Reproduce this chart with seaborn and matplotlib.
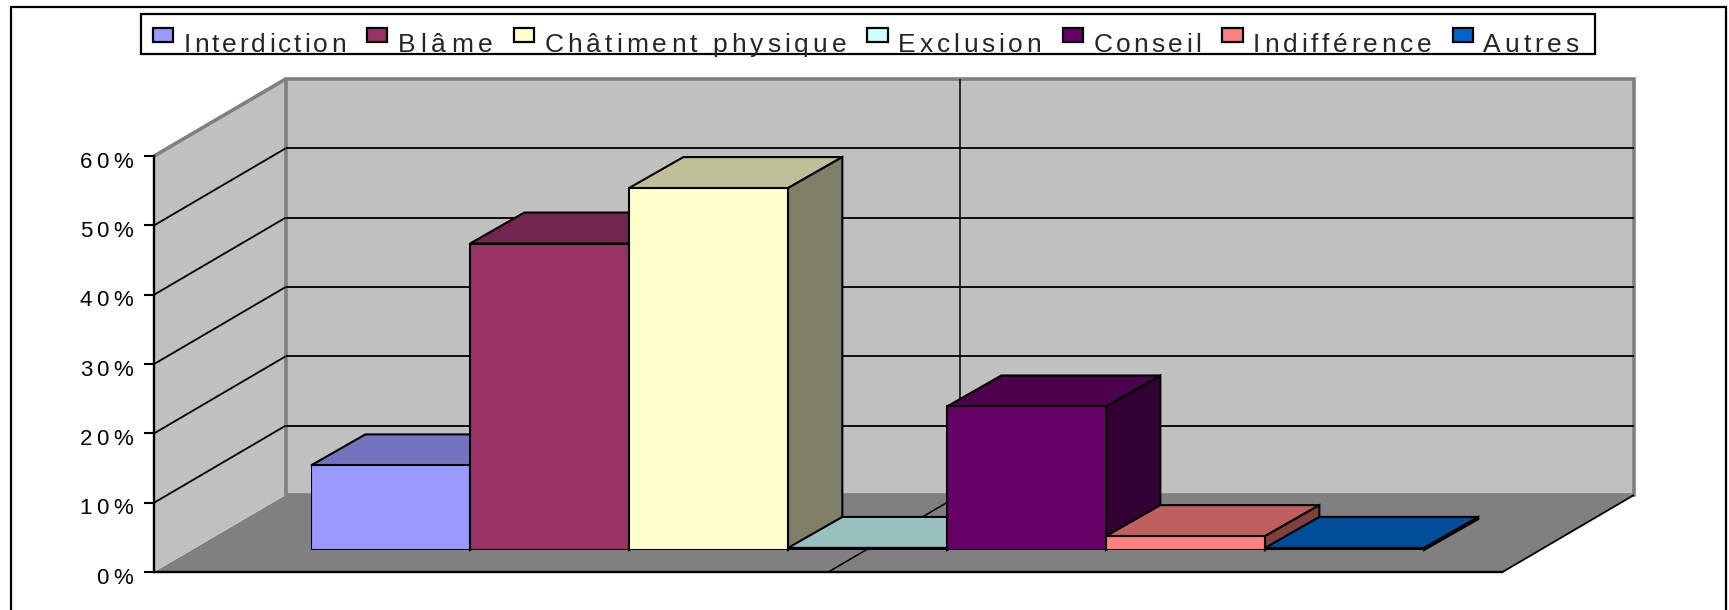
import matplotlib
matplotlib.use("Agg")
import matplotlib.pyplot as plt
import seaborn as sns
from matplotlib.legend_handler import HandlerPatch
from matplotlib.offsetbox import TextArea
from matplotlib.patches import Patch, Polygon, Rectangle
from matplotlib.text import Text
from matplotlib.transforms import Bbox, IdentityTransform

# ---- data ----
categories = ["Interdiction", "Blâme", "Châtiment physique", "Exclusion",
              "Conseil", "Indifférence", "Autres"]
values = [12.2, 44.2, 52.2, 0.3, 20.7, 2, 0.3]
front_colors = ["#9999FF", "#993366", "#FFFFCC", "#CCFFFF", "#660066", "#FF8080", "#0066CC"]
top_colors = ["#7373BF", "#73264D", "#BFBF99", "#99BFBF", "#4D004D", "#BF6060", "#004D99"]
side_colors = ["#4D4D80", "#4D1A33", "#808066", "#668080", "#330033", "#804040", "#003366"]
y_ticks = [0, 10, 20, 30, 40, 50, 60]
y_tick_labels = ["0%", "10%", "20%", "30%", "40%", "50%", "60%"]

# ---- layout ----
W, H = 1729, 610
WALL, FLOOR = "#C0C0C0", "#808080"
DX, DY = 0.3417, 4.47          # oblique shift of one bar depth (category units, % units)
WALL_DX = 0.3328               # same shift for the walls and floor
D_FRONT, D_BACK = -0.71, 1.774 # floor extent in depth units
X_MID, X_HALF = 2.99, 4.24     # floor extent in category units
Y_TOP = 60
FONT = "Liberation Sans"
LEGEND_SPACING = [3.0, 5.0, 4.0, 3.75, 3.3, 3.7, 3.8]  # pixels between glyphs

sns.set_style("white")
plt.rcParams["font.family"] = [FONT, "DejaVu Sans"]

fig = plt.figure(figsize=(W / 100, H / 100), dpi=100, facecolor="white")


def axes_from_pixels(left, right, top, bottom):
    return fig.add_axes([left / W, 1 - bottom / H, (right - left) / W, (bottom - top) / H])


def letter_space(artist, spacing, drop=0.0):
    """Draw one text artist with extra pixels between its glyphs."""
    def draw(renderer):
        label = artist.get_text()
        x, y = artist.get_transform().transform(artist.get_position())
        fp = artist.get_fontproperties()
        measure = lambda s: renderer.get_text_width_height_descent(s, fp, False)[0]
        base = measure("xx")
        advances = [measure("x" + c + "x") - base for c in label]
        if artist.get_ha() == "right":
            x -= sum(advances) + spacing * (len(label) - 1)
        for c, adv in zip(label, advances):
            glyph = Text(x, y - drop, c, fontproperties=fp, color=artist.get_color(),
                         va="baseline", ha="left", transform=IdentityTransform())
            glyph.set_figure(fig)
            glyph.draw(renderer)
            x += adv + spacing
    artist.draw = draw


# plane of the bars' front faces
ax = axes_from_pixels(311, 1424, 134, 550)
sns.barplot(x=categories, y=values, hue=categories, palette=front_colors, width=1,
            edgecolor="black", linewidth=1.5, saturation=1, legend=False, ax=ax)
ax.set_xlim(-0.5, 6.5)
ax.set_ylim(0, Y_TOP)
ax.set_xlabel("")
ax.set_ylabel("")
ax.set_xticks([])
ax.set_yticks([])
ax.patch.set_visible(False)
sns.despine(ax=ax, left=True, bottom=True)


def project(x, y, d, dx=DX):
    return x + dx * d, y + DY * d


def polygon(points, face, edge="none", lw=0.0, z=1, dx=DX):
    ax.add_patch(Polygon([project(*p, dx) for p in points], closed=True, facecolor=face,
                         edgecolor=edge, linewidth=lw, clip_on=False, zorder=z,
                         joinstyle="miter"))


def segment(a, b, color="black", lw=1.3, z=2):
    (x0, y0), (x1, y1) = project(*a, WALL_DX), project(*b, WALL_DX)
    ax.plot([x0, x1], [y0, y1], color=color, lw=lw, clip_on=False, zorder=z,
            solid_capstyle="butt")


xl, xr = X_MID - X_HALF, X_MID + X_HALF
polygon([(xl, 0, D_FRONT), (xr, 0, D_FRONT), (xr, 0, D_BACK), (xl, 0, D_BACK)], FLOOR, z=0.5, dx=WALL_DX)
polygon([(xl, 0, D_FRONT), (xl, 0, D_BACK), (xl, Y_TOP, D_BACK), (xl, Y_TOP, D_FRONT)], WALL, z=0.6, dx=WALL_DX)
polygon([(xl, 0, D_BACK), (xr, 0, D_BACK), (xr, Y_TOP, D_BACK), (xl, Y_TOP, D_BACK)], WALL,
        edge=FLOOR, lw=2.6, z=0.7, dx=WALL_DX)
segment((xl, Y_TOP, D_FRONT), (xl, Y_TOP, D_BACK), color=FLOOR, lw=2.6, z=0.8)
for level in y_ticks[1:-1]:
    segment((xl, level, D_BACK), (xr, level, D_BACK))
    segment((xl, level, D_FRONT), (xl, level, D_BACK))
segment((X_MID, 0, D_BACK), (X_MID, Y_TOP, D_BACK), lw=1.1)
segment((X_MID, 0, D_FRONT), (X_MID, 0, D_BACK), lw=1.1)
segment((xr, 0, D_FRONT), (xr, 0, D_BACK), lw=1.3)

# depth faces of each bar, painted from left to right
for i, (bar, top, side) in enumerate(zip(list(ax.patches)[:len(categories)], top_colors, side_colors)):
    base_z = 10 + 3 * i
    x0, x1 = bar.get_x(), bar.get_x() + bar.get_width()
    v = bar.get_height()
    polygon([(x0, v, 0), (x1, v, 0), (x1, v, 1), (x0, v, 1)], top, "black", 1.5, base_z)
    polygon([(x1, 0, 0), (x1, v, 0), (x1, v, 1), (x1, 0, 1)], side, "black", 1.5, base_z + 1)
    bar.set_zorder(base_z + 2)

# front plane of the chart: value axis and front floor edge
ax_front = axes_from_pixels(154, 1502, 156, 572)
ax_front.patch.set_visible(False)
ax_front.set_xlim(0, 1)
ax_front.set_ylim(0, Y_TOP)
ax_front.set_xticks([])
ax_front.set_yticks(y_ticks)
ax_front.set_yticklabels(y_tick_labels, fontsize=16, color="black", family=FONT)
ax_front.tick_params(axis="y", left=True, length=7.4, width=1.5, pad=8, color="black")
for name, spine in ax_front.spines.items():
    spine.set_visible(name in ("left", "bottom"))
    spine.set_color("black")
    spine.set_linewidth(1.7)
for label in ax_front.get_yticklabels():
    letter_space(label, 4.2, drop=11.5)

# legend
handles = [Patch(facecolor=c, edgecolor="black", linewidth=1.6) for c in front_colors]
leg = ax.legend(handles, categories, ncols=7, loc="upper left",
                bbox_to_anchor=(141 / W, 1 - 14 / H), bbox_transform=fig.transFigure,
                fontsize=19, borderaxespad=0, borderpad=0.455, handlelength=0.76,
                handleheight=0.15, handletextpad=0.4, columnspacing=0.81,
                frameon=True, fancybox=False, framealpha=1, facecolor="white",
                edgecolor="black", labelspacing=0,
                handler_map={Patch: HandlerPatch(ypad=-0.2)})
leg.set_zorder(50)
leg.get_frame().set_linewidth(1.6)


def widen(area, extra, height):
    original = area.get_bbox

    def get_bbox(renderer):
        box = original(renderer)
        return Bbox.from_bounds(box.x0, 0, box.width + extra, height)
    area.get_bbox = get_bbox


spacing_by_label = dict(zip(categories, LEGEND_SPACING))
for area in leg.findobj(TextArea):
    label = area.get_text()
    if label in spacing_by_label:
        tail = 4.5 if label == categories[-1] else 0
        widen(area, spacing_by_label[label] * (len(label) - 1) + tail, 16)
for text in leg.get_texts():
    letter_space(text, spacing_by_label[text.get_text()], drop=9.5)

# chart area border (open past the bottom of the image)
fig.add_artist(Rectangle((11 / W, -0.05), (1726 - 11) / W, 1.05 - 6.5 / H,
                         transform=fig.transFigure, facecolor="none",
                         edgecolor="black", linewidth=1.6))

fig.savefig("out.png", dpi=100, facecolor="white")
